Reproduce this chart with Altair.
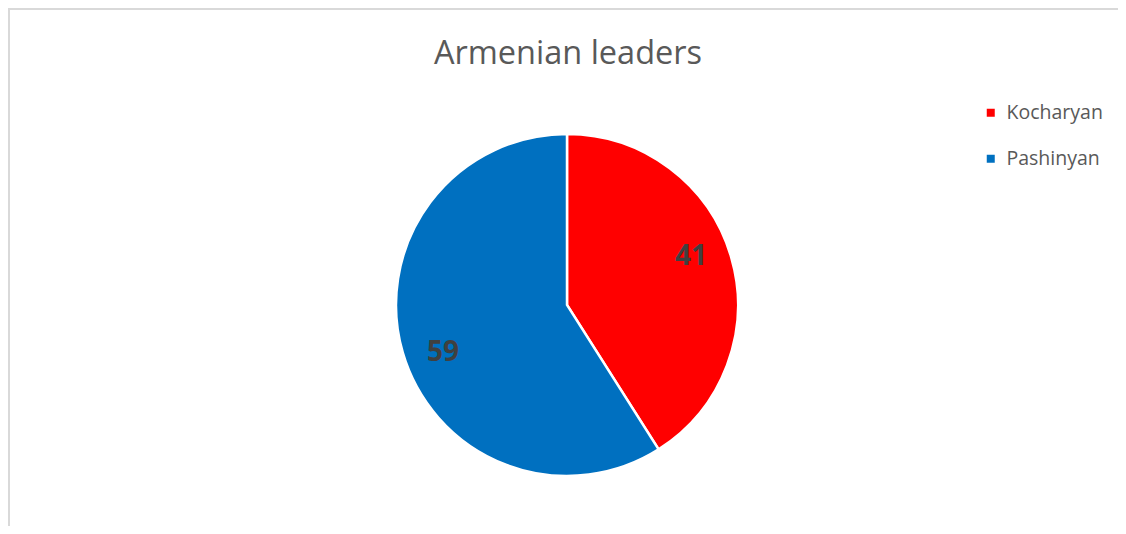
import altair as alt
import pandas as pd

leaders = ["Kocharyan", "Pashinyan"]
values = [41, 59]
colors = ["#FF0000", "#0070C0"]

df = pd.DataFrame({"leader": leaders, "value": values, "order": [0, 1]})

W, H = 1110, 518
CX, CY, R = 559, 297, 171

base = alt.Chart(df).encode(
    theta=alt.Theta("value:Q", stack=True),
    order=alt.Order("order:Q"),
)

pie = base.mark_arc(stroke="white", strokeWidth=2.5, outerRadius=R).encode(
    x=alt.value(CX),
    y=alt.value(CY),
    color=alt.Color(
        "leader:N",
        scale=alt.Scale(domain=leaders, range=colors),
        legend=alt.Legend(
            title=None,
            orient="none",
            legendX=973,
            legendY=95,
            symbolType="square",
            symbolSize=64,
            symbolStrokeWidth=0,
            labelFontSize=19.5,
            labelFont="Open Sans",
            labelColor="#595959",
            rowPadding=25,
            labelOffset=6,
            padding=0,
        ),
    ),
)

labels = base.mark_text(
    radius=133, thetaOffset=-0.085, fontSize=28, fontWeight="bold",
    font="Open Sans", color="#404040"
).encode(
    x=alt.value(CX),
    y=alt.value(CY),
    text=alt.Text("value:Q"),
)

border_top = alt.Chart(df).mark_rule(color="#d9d9d9", strokeWidth=2).encode(
    x=alt.value(0), x2=alt.value(W + 20), y=alt.value(1)
)
border_left = alt.Chart(df).mark_rule(color="#d9d9d9", strokeWidth=2).encode(
    x=alt.value(1), y=alt.value(0), y2=alt.value(H + 20)
)

chart = alt.layer(border_top, border_left, pie, labels).properties(
    width=W,
    height=H,
    autosize=alt.AutoSizeParams(type="none"),
    padding={"left": 0, "top": 0, "right": 0, "bottom": 0},
    title=alt.TitleParams(
        "Armenian leaders",
        orient="top",
        anchor="middle",
        frame="group",
        offset=-63,
        dx=5,
        fontSize=32.5,
        font="Open Sans",
        fontWeight="normal",
        color="#595959",
    ),
).configure_view(stroke=None)

chart.save("out.html", embed_options={"renderer": "svg", "actions": False})
